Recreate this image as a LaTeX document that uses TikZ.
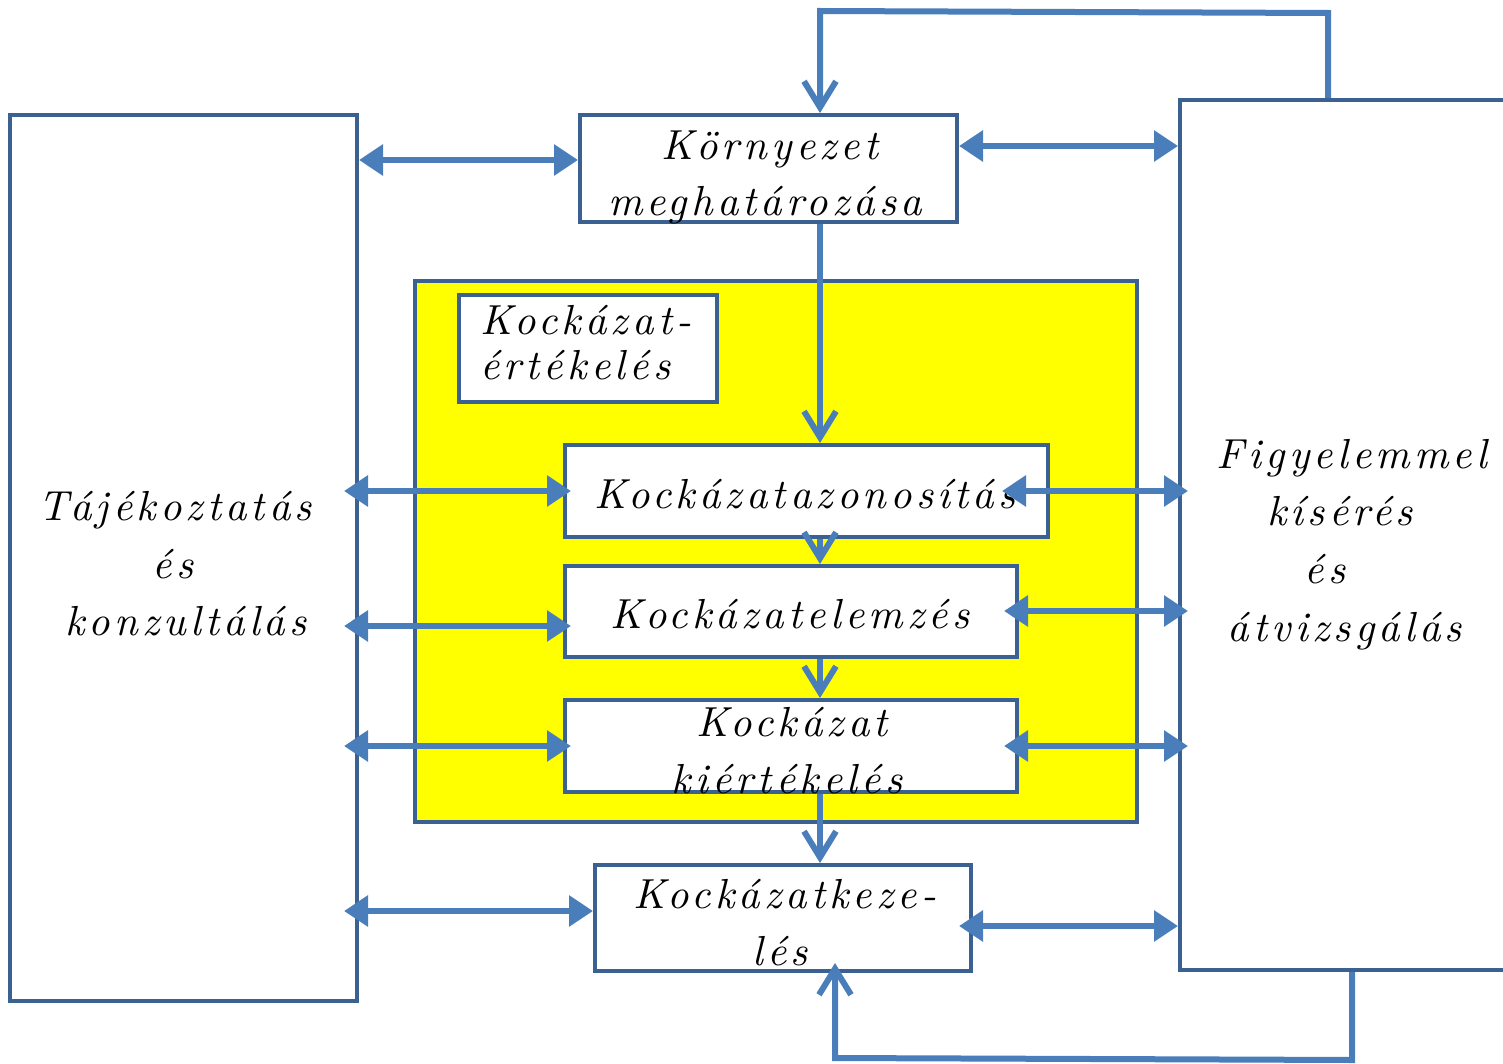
\documentclass[tikz,border=0pt]{standalone}
\usepackage{fontspec}
\usetikzlibrary{arrows.meta}
\definecolor{bordc}{HTML}{3B6192}
\definecolor{arrc}{HTML}{4A7EBB}
\definecolor{yel}{HTML}{FFFF00}
\newfontfamily\scrfont{lmroman10-italic}[Extension=.otf,LetterSpace=10]
\newcommand{\scr}{\scrfont\fontsize{21}{24}\selectfont}
\begin{document}
\begin{tikzpicture}[x=0.5pt,y=-0.5pt,
  box/.style={draw=bordc,line width=2pt,fill=white,inner sep=0pt},
  lbl/.style={inner sep=0pt,anchor=base,font=\scr},
  dbl/.style={draw=arrc,line width=3.2pt,{Triangle[length=12pt,width=15pt]}-{Triangle[length=12pt,width=15pt]}},
  varr/.style={draw=arrc,line width=3pt,-{Straight Barb[length=13pt,width=16pt]}}]
\useasboundingbox (0,0) rectangle (1503,1064);
% boxes
\node[box,minimum width=173.5pt,minimum height=443pt] (L) at (183.5,558) {};
\node[box,minimum width=165pt,minimum height=435pt] (R) at (1345,535) {};
\node[box,minimum width=188.5pt,minimum height=53.5pt] (Env) at (768.5,168.5) {};
\node[box,fill=yel,minimum width=361pt,minimum height=270.5pt] (Y) at (776,551.5) {};
\node[box,minimum width=129pt,minimum height=53.5pt] (KE) at (588,348.5) {};
\node[box,minimum width=241.5pt,minimum height=46pt] (AZ) at (806.5,491) {};
\node[box,minimum width=226pt,minimum height=45.5pt] (EL) at (791,611.5) {};
\node[box,minimum width=226pt,minimum height=46pt] (KI) at (791,746) {};
\node[box,minimum width=188pt,minimum height=53pt] (KZ) at (783,918) {};
% texts
\node[lbl] (t1) at (770,160) {Környezet};
\node[lbl] (t2) at (765,216) {meghatározása};
\node[lbl,anchor=base west] (t3) at (480,334) {Kockázat-};
\node[lbl,anchor=base west] (t4) at (480,379) {értékelés};
\node[lbl] (t5) at (805,508) {Kockázatazonosítás};
\node[lbl] (t6) at (790,628) {Kockázatelemzés};
\node[lbl] (t7) at (792,736) {Kockázat};
\node[lbl] (t8) at (787,793) {kiértékelés};
\node[lbl] (t9) at (785,908) {Kockázatkeze-};
\node[lbl] (t10) at (780,965) {lés};
\node[lbl] (t11) at (175,520) {Tájékoztatás};
\node[lbl] (t12) at (173,578) {és};
\node[lbl] (t13) at (186,635) {konzultálás};
\node[lbl] (t14) at (1352,468) {Figyelemmel};
\node[lbl] (t15) at (1340,525) {kísérés};
\node[lbl] (t16) at (1325,583) {és};
\node[lbl] (t17) at (1345,641) {átvizsgálás};
% vertical flow
\draw[varr] (R.north -| 1328,0) -- (1328,13) -- (820,11) -- (Env.north -| 820,0);
\draw[varr] (Env.south -| 820,0) -- (AZ.north -| 820,0);
\draw[varr] (AZ.south -| 820,0) -- (EL.north -| 820,0);
\draw[varr] (EL.south -| 820,0) -- (KI.north -| 820,0);
\draw[varr] (KI.south -| 820,0) -- (KZ.north -| 820,0);
\draw[varr,shorten >=-5pt] (R.south -| 1352,0) -- (1352,1060) -- (835,1058) -- (KZ.south -| 835,0);
% horizontal double arrows
\draw[dbl] (L.east |- 0,160) -- (Env.west |- 0,160);
\draw[dbl] (Env.east |- 0,146) -- (R.west |- 0,146);
\draw[dbl,shorten <=-7.5pt,shorten >=-4pt] (L.east |- 0,491) -- (AZ.west |- 0,491);
\draw[dbl,shorten <=-7.5pt,shorten >=-4pt] (L.east |- 0,626) -- (EL.west |- 0,626);
\draw[dbl,shorten <=-7.5pt,shorten >=-4pt] (L.east |- 0,746) -- (KI.west |- 0,746);
\draw[dbl,shorten <=-7.5pt] (L.east |- 0,911) -- (KZ.west |- 0,911);
\draw[dbl,shorten <=-24pt,shorten >=-5pt] (AZ.east |- 0,491) -- (R.west |- 0,491);
\draw[dbl,shorten <=-7.5pt,shorten >=-5pt] (EL.east |- 0,611) -- (R.west |- 0,611);
\draw[dbl,shorten <=-7.5pt,shorten >=-5pt] (KI.east |- 0,746) -- (R.west |- 0,746);
\draw[dbl,shorten <=-7pt] (KZ.east |- 0,926) -- (R.west |- 0,926);
\end{tikzpicture}
\end{document}
